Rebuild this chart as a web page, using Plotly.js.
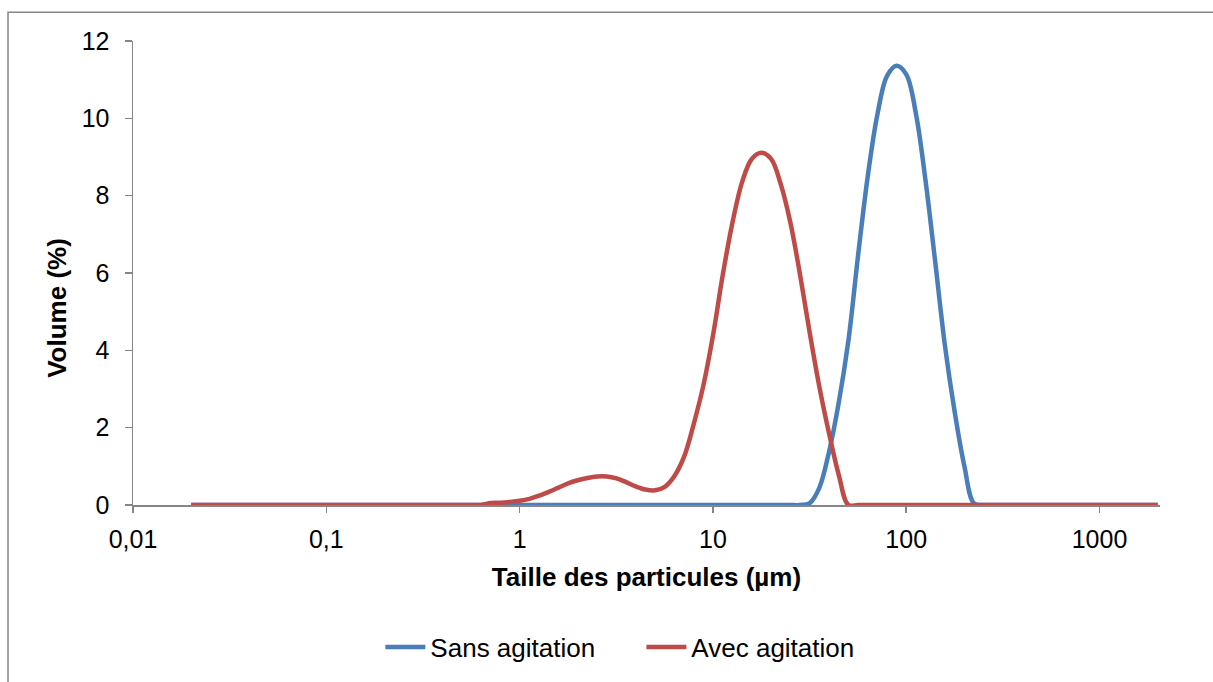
<!DOCTYPE html>
<html>
<head>
<meta charset="utf-8">
<script src="https://cdn.plot.ly/plotly-3.0.1.min.js"></script>
<style>
  html, body { margin: 0; padding: 0; background: #ffffff; }
  #chart { width: 1213px; height: 682px; }
</style>
</head>
<body>
<div id="chart"></div>
<script>
// Particle size classes (µm)
const sizes = [0.020, 0.022, 0.025, 0.028, 0.032, 0.036, 0.040, 0.045, 0.050, 0.056,
  0.063, 0.071, 0.080, 0.089, 0.100, 0.112, 0.126, 0.142, 0.159, 0.178,
  0.200, 0.224, 0.252, 0.283, 0.317, 0.356, 0.399, 0.448, 0.502, 0.564,
  0.632, 0.710, 0.796, 0.893, 1.002, 1.125, 1.262, 1.416, 1.589, 1.783,
  2.000, 2.244, 2.518, 2.825, 3.170, 3.557, 3.991, 4.477, 5.024, 5.637,
  6.325, 7.096, 7.962, 8.934, 10.024, 11.247, 12.619, 14.159, 15.887, 17.825,
  20.000, 22.440, 25.179, 28.251, 31.698, 35.566, 39.905, 44.774, 50.238, 56.368,
  63.246, 70.963, 79.621, 89.337, 100.237, 112.468, 126.191, 141.589, 158.866, 178.250,
  200.000, 224.404, 251.785, 282.508, 316.979, 355.656, 399.052, 447.744, 502.377, 563.677,
  632.456, 709.627, 796.214, 893.367, 1002.374, 1124.683, 1261.915, 1415.892, 1588.656, 1782.502,
  2000.000];

// Volume (%) – sans agitation
const sansAgitation = [0, 0, 0, 0, 0, 0, 0, 0, 0, 0,
  0, 0, 0, 0, 0, 0, 0, 0, 0, 0,
  0, 0, 0, 0, 0, 0, 0, 0, 0, 0,
  0, 0, 0, 0, 0, 0, 0, 0, 0, 0,
  0, 0, 0, 0, 0, 0, 0, 0, 0, 0,
  0, 0, 0, 0, 0, 0, 0, 0, 0, 0,
  0, 0, 0, 0, 0.05, 0.45, 1.38, 2.65, 4.25, 6.45,
  8.5, 10.1, 11.1, 11.36, 11.13, 10.1, 8.35, 6.25, 4.1, 2.4,
  1.0, 0.04, 0, 0, 0, 0, 0, 0, 0, 0,
  0, 0, 0, 0, 0, 0, 0, 0, 0, 0,
  0];

// Volume (%) – avec agitation
const avecAgitation = [0, 0, 0, 0, 0, 0, 0, 0, 0, 0,
  0, 0, 0, 0, 0, 0, 0, 0, 0, 0,
  0, 0, 0, 0, 0, 0, 0, 0, 0, 0,
  0, 0.05, 0.06, 0.08, 0.11, 0.16, 0.24, 0.34, 0.45, 0.56,
  0.64, 0.70, 0.74, 0.74, 0.69, 0.59, 0.48, 0.40, 0.38, 0.47,
  0.75, 1.25, 2.1, 3.1, 4.4, 5.95, 7.3, 8.35, 8.95, 9.11,
  8.95, 8.3, 7.3, 5.95, 4.45, 3.05, 1.85, 0.78, 0, 0,
  0, 0, 0, 0, 0, 0, 0, 0, 0, 0,
  0, 0, 0, 0, 0, 0, 0, 0, 0, 0,
  0, 0, 0, 0, 0, 0, 0, 0, 0, 0,
  0];

const seriesNames = ['Sans agitation', 'Avec agitation'];
const xTickVals = [0.01, 0.1, 1, 10, 100, 1000];
const xTickText = ['0,01', '0,1', '1', '10', '100', '1000'];
const xTitle = 'Taille des particules (µm)';
const yTitle = 'Volume (%)';

const FONT = '"Liberation Sans", Arial, sans-serif';
const AXIS_COLOR = '#868686';

const traces = [
  {
    x: sizes, y: sansAgitation, name: seriesNames[0], type: 'scatter', mode: 'lines',
    line: { color: '#4A7EBB', width: 4.5, shape: 'spline', smoothing: 1 }
  },
  {
    x: sizes, y: avecAgitation, name: seriesNames[1], type: 'scatter', mode: 'lines',
    line: { color: '#BE4B48', width: 4.5, shape: 'spline', smoothing: 1 }
  }
];

const layout = {
  width: 1213, height: 682,
  margin: { l: 133, r: 53, t: 41, b: 174 },
  paper_bgcolor: '#ffffff', plot_bgcolor: '#ffffff',
  font: { family: FONT, color: '#000000', size: 25 },
  showlegend: true,
  legend: {
    orientation: 'h', x: 0.495, xanchor: 'center', y: -0.306, yanchor: 'middle',
    font: { family: FONT, size: 26, color: '#000000' },
    bgcolor: 'rgba(0,0,0,0)', itemwidth: 40, entrywidth: 206, entrywidthmode: 'pixels'
  },
  xaxis: {
    type: 'log', range: [-2, 3.313], autorange: false,
    tickvals: xTickVals, ticktext: xTickText,
    ticks: 'outside', ticklen: 6, tickwidth: 1.5, tickcolor: AXIS_COLOR,
    showline: true, linecolor: AXIS_COLOR, linewidth: 1.5,
    showgrid: false, zeroline: false,
    ticklabelstandoff: 5,
    tickfont: { family: FONT, size: 25, color: '#000000' },
    title: { text: xTitle, font: { family: FONT, size: 26, color: '#000000', weight: 'bold' }, standoff: 16 }
  },
  yaxis: {
    range: [0, 12], autorange: false, dtick: 2, tick0: 0,
    ticks: 'outside', ticklen: 7, tickwidth: 1.5, tickcolor: AXIS_COLOR,
    showline: true, linecolor: AXIS_COLOR, linewidth: 1.5,
    showgrid: false, zeroline: false,
    ticklabelstandoff: 10,
    tickfont: { family: FONT, size: 25, color: '#000000' }
  },
  annotations: [
    {
      text: yTitle, textangle: -90, showarrow: false,
      xref: 'paper', yref: 'paper', x: -0.074, y: 0.425, xanchor: 'center', yanchor: 'middle',
      font: { family: FONT, size: 26, color: '#000000', weight: 'bold' }
    }
  ],
  shapes: [
    {
      type: 'rect', xref: 'paper', yref: 'paper',
      x0: -0.1217, x1: 1.5, y0: -1.0, y1: 1.062,
      line: { color: AXIS_COLOR, width: 1.5 }, fillcolor: 'rgba(0,0,0,0)', layer: 'below'
    }
  ]
};

Plotly.newPlot('chart', traces, layout, { staticPlot: true, displayModeBar: false });
</script>
</body>
</html>
